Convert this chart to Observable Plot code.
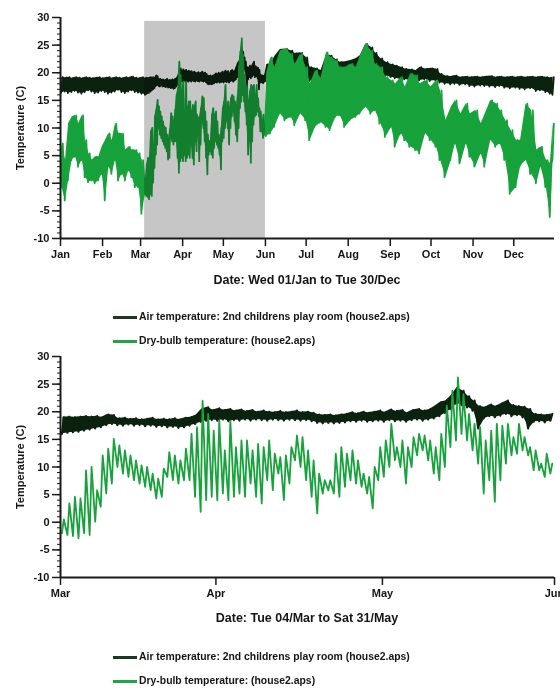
<!DOCTYPE html>
<html>
<head>
<meta charset="utf-8">
<script src="https://cdn.jsdelivr.net/npm/d3@7"></script>
<script src="https://cdn.jsdelivr.net/npm/@observablehq/plot@0.6"></script>
<style>
  html, body { margin: 0; padding: 0; background: #fff; }
  #wrap { position: relative; width: 560px; height: 691px; background: #fff;
          font-family: "Liberation Sans", Arial, sans-serif; font-weight: bold; color: #151515; overflow: hidden; }
  .abs { position: absolute; }
  .title { left: 60px; width: 494px; text-align: center; font-size: 12.5px; line-height: 14px; white-space: nowrap; }
  .ylab { font-size: 11px; white-space: nowrap; transform: translate(-50%, -50%) rotate(-90deg); }
  .leg { left: 113px; height: 12px; display: flex; align-items: center; font-size: 10.4px; line-height: 12px; white-space: nowrap; }
  .sw { width: 24px; height: 3px; margin-right: 2px; }
</style>
</head>
<body>
<div id="wrap">
  <div id="p1" class="abs" style="left:0;top:0"></div>
  <div class="abs ylab" style="left:20px;top:127.5px">Temperature (C)</div>
  <div class="abs title" style="top:273px">Date: Wed 01/Jan to Tue 30/Dec</div>
  <div class="abs leg" style="top:311px"><span class="sw" style="background:#1c3822"></span>Air temperature: 2nd childrens play room (house2.aps)</div>
  <div class="abs leg" style="top:335px"><span class="sw" style="background:#1ea646"></span>Dry-bulb temperature: (house2.aps)</div>

  <div id="p2" class="abs" style="left:0;top:339px"></div>
  <div class="abs ylab" style="left:20px;top:467px">Temperature (C)</div>
  <div class="abs title" style="top:611px">Date: Tue 04/Mar to Sat 31/May</div>
  <div class="abs leg" style="top:651px"><span class="sw" style="background:#1c3822"></span>Air temperature: 2nd childrens play room (house2.aps)</div>
  <div class="abs leg" style="top:675px"><span class="sw" style="background:#1ea646"></span>Dry-bulb temperature: (house2.aps)</div>
</div>
<script>
// ---------- data ----------
const monthLabels = ["Jan","Feb","Mar","Apr","May","Jun","Jul","Aug","Sep","Oct","Nov","Dec"];
const yTicks = [-10, -5, 0, 5, 10, 15, 20, 25, 30];

// Whole-year panel samples outside the 4 Mar – 31 May window (day of year, 0 = 1 Jan 2003)
const yearDays = [1,3.7,6,8.6,11,13.5,16,18.4,20.9,23.3,25.8,28.3,30.7,33.2,35.6,38.1,40.5,43,45.5,48,50.4,52.8,55.3,57.7,60.2,
  152,155,158,162,166,170,173,177,181,184,188,192,196,199,203,206,210,214,218,221,225,229,232,236,240,244,247,251,254,258,
  262,265,269,273,277,280,284,288,291,295,299,302,306,310,313,317,321,324,328,332,336,339,343,347,351,354,358,361,363];
const yearAirMin = [16.4,16.6,16.3,16.5,16.7,16.4,16.2,16.5,16.8,16.6,16.3,16.4,16.7,16.5,16.2,16.4,16.6,16.9,16.5,16.3,16.6,16.8,16.5,16.4,16.2,
  18.5,18.6,19.5,20.5,20.8,20.5,20.0,20.2,19.6,18.5, 18.4,18.2,19.6,19.8,19.2,19.0,19.0,19.3,19.5,20.2,
  21.5,21.8,20.8,20.0,19.4,19.2,19.0,18.8,18.8,18.6, 18.7,18.6,18.8,18.5,18.6,18.2,18.0,17.9,18.0,17.8,
  17.9,17.6,17.5,17.7,17.6,17.5,17.4,17.6,17.3,17.2, 17.3,17.1,17.0,17.2,16.7,16.8,16.5,16.2,16.0];
const yearAirMax = [19.2,19.1,19.2,19.0,19.2,19.1,19.0,19.2,19.1,19.0,19.1,19.2,19.0,19.1,19.2,19.0,19.2,19.1,19.0,19.2,19.1,19.3,19.1,19.0,19.2,
  21.5,21.6,23.0,24.2,24.3,24.0,23.5,23.6,22.8,21.0, 20.8,20.4,23.2,23.1,22.4,21.9,22.0,22.2,22.6,23.1,
  25.2,24.6,23.6,22.6,21.9,21.5,21.3,21.0,20.7,20.6, 20.4,21.0,20.7,20.8,20.7,19.8,19.4,19.3,19.5,19.2,
  19.3,19.2,19.3,19.2,19.3,19.4,19.2,19.3,19.2,19.3, 19.2,19.3,19.2,19.3,19.2,19.3,19.2,19.1,19.2];
const yearDryMin = [-0.7,-3.1,0.5,4.2,4.8,3.0,4.2,1.1,0.2,0.5,0.0,0.5,1.7,-3.1,3.0,1.7,4.2,0.5,1.7,0.5,2.3,1.1,-0.7,-0.7,-5.5,
  8.5,9.0,10.2,12.6,11.4,12.0,10.5,12.6,11.4,7.8, 10.2,11.0,10.2,9.6,12.0,12.3,10.2,11.4,12.0,12.6,
  13.8,12.6,13.2,10.8,8.4,10.2,6.6,9.0,7.8,6.6, 6.0,5.4,9.0,7.8,6.6,4.2,1.1,4.2,7.2,3.6,
  7.2,4.8,3.0,5.4,3.0,7.8,6.6,7.2,4.2,-1.9, -0.7,3.0,4.2,1.7,0.0,3.0,-0.7,-6.1,4.2];
const yearDryMax = [7.2,4.2,10.8,12.0,12.3,10.8,12.3,7.8,5.4,4.2,4.8,4.8,6.6,7.8,9.0,7.8,10.8,9.0,9.0,6.0,6.6,6.0,6.0,5.4,4.2,
  20.0,22.8,21.0,24.0,24.3,23.4,21.6,23.4,21.0,18.0, 20.4,19.0,23.7,22.8,22.2,21.0,21.0,21.6,21.0,23.1,
  25.2,24.0,21.6,21.0,19.2,18.6,18.0,19.2,17.4,19.8, 19.5,18.0,18.6,17.4,18.6,16.8,11.4,13.8,15.0,12.6,
  14.4,12.6,13.2,10.8,12.6,15.0,14.4,13.2,11.4,9.6, 7.8,7.8,14.4,13.2,6.0,6.6,4.2,3.6,10.8];

// Daily minimum / maximum, 4 Mar – 31 May (89 days)
const detAirMin = [16.0,16.2,16.3,16.4,16.6,16.8,17.0,17.2,17.6,17.8,
  17.6,17.5,17.7,17.5,17.6,17.4,17.5,17.3,17.4,17.2,
  17.3,17.1,17.2,17.5,17.8,18.2,18.4,18.5,18.4,18.6,
  18.3,18.5,18.4,18.6,18.4,18.6,18.5,18.4,18.6,18.5,
  18.4,18.6,18.5,18.4,18.5,18.3,18.0,17.9,18.0,17.9,
  18.0,18.1,18.3,18.2,18.4,18.2,18.3,18.4,18.2,18.5,
  18.3,18.4,18.2,18.5,18.6,18.4,18.6,18.8,19.2,19.8,
  20.5,21.5,21.2,20.8,20.2,17.0,18.8,19.2,19.0,19.3,
  19.6,19.2,19.4,19.0,17.0,18.2,18.3,18.1,18.4];
const detAirMax = [19.0,19.1,19.0,19.1,19.2,19.1,19.2,19.0,19.5,19.4,
  18.8,18.9,18.7,18.8,18.6,18.7,18.9,18.6,18.7,18.6,
  18.8,18.6,18.9,19.0,19.4,20.5,20.8,20.3,20.6,20.3,
  20.5,20.2,20.4,20.1,20.3,20.0,20.2,20.0,19.9,20.1,
  19.9,20.0,20.2,19.9,20.0,19.8,19.5,19.4,19.5,19.3,
  19.5,19.6,19.9,19.7,20.0,19.8,20.0,20.2,19.9,20.4,
  20.1,20.3,19.8,20.3,20.5,20.2,20.4,21.0,21.7,22.0,
  23.0,24.4,23.8,22.8,22.0,21.0,20.8,21.3,21.0,21.5,
  22.0,21.2,21.0,20.9,20.5,19.6,19.5,19.4,19.6];
const detDryMin = [-2.0,-2.3,-2.5,-2.9,-2.0,-2.3,0.1,2.8,5.2,7.0,
  10.0,8.8,8.2,7.6,7.0,6.4,5.8,4.3,4.6,8.2,
  7.6,7.0,7.6,7.6,4.6,1.9,4.0,4.6,4.0,5.2,
  4.0,4.6,5.2,4.6,7.0,4.6,3.4,7.6,5.8,8.8,
  4.0,7.0,11.2,10.0,7.6,4.6,1.6,5.2,5.8,5.2,
  4.6,6.4,7.6,7.0,6.4,5.2,2.5,7.6,8.2,10.0,
  11.2,10.0,7.0,10.0,12.1,13.0,11.2,8.8,7.6,10.0,
  13.6,14.8,16.0,14.8,13.0,10.6,5.2,7.6,3.7,7.6,
  10.6,12.1,12.4,13.0,12.1,9.4,9.4,8.2,8.8];
const detDryMax = [0.5,3.4,4.6,4.3,9.4,10.0,5.8,12.1,13.3,15.1,
  13.9,13.0,12.1,11.2,10.3,10.0,8.8,7.9,9.7,12.7,
  12.1,11.2,13.3,16.0,17.2,22.0,19.6,16.6,18.4,13.0,
  18.4,13.6,14.8,14.8,13.0,14.2,13.6,14.8,12.4,11.8,
  12.1,13.6,15.7,15.4,13.0,11.2,8.8,7.6,7.6,12.4,
  13.6,12.4,13.0,11.2,8.8,8.2,10.0,13.6,14.8,17.8,
  13.6,14.8,13.6,15.4,16.0,15.7,14.8,13.6,16.0,21.1,
  23.8,26.2,23.2,19.6,17.8,17.2,14.8,16.6,17.8,17.5,
  17.8,15.4,17.8,15.4,13.6,13.0,10.6,12.4,10.6];

// ---------- build ----------
const AIR = "#0b220f", DRY = "#17a23b";
const DAY0 = Date.UTC(2003, 0, 1);
const detStart = 62; // 4 Mar
const toDate = d => new Date(DAY0 + d * 864e5);

function dailyPoints(mins, maxs, start) {
  const out = [];
  mins.forEach((m, k) => {
    out.push({t: toDate(start + k + 0.25), v: m});
    out.push({t: toDate(start + k + 0.6), v: maxs[k]});
  });
  return out;
}
function samplePoints(days, mins, maxs) {
  const out = [];
  days.forEach((d, i) => {
    const prev = i > 0 ? d - days[i - 1] : Infinity;
    const next = i < days.length - 1 ? days[i + 1] - d : Infinity;
    let s = Math.min(prev, next); if (!isFinite(s) || s > 4) s = 3;
    out.push({t: toDate(d - s / 4), v: mins[i]});
    out.push({t: toDate(d + s / 4), v: maxs[i]});
  });
  return out;
}
function bands(days, mins, maxs, dMins, dMaxs) {
  return days.map((d, i) => ({t: toDate(d), lo: mins[i], hi: maxs[i]}))
    .concat(dMins.map((m, k) => ({t: toDate(detStart + k + 0.5), lo: m, hi: dMaxs[k]})))
    .sort(byT);
}
const byT = (a, b) => a.t - b.t;
const yearAir = samplePoints(yearDays, yearAirMin, yearAirMax).concat(dailyPoints(detAirMin, detAirMax, detStart)).sort(byT);
const yearDry = samplePoints(yearDays, yearDryMin, yearDryMax).concat(dailyPoints(detDryMin, detDryMax, detStart)).sort(byT);
const yearAirBand = bands(yearDays, yearAirMin, yearAirMax, detAirMin, detAirMax);
const yearDryBand = bands(yearDays, yearDryMin, yearDryMax, detDryMin, detDryMax);
const detAir = dailyPoints(detAirMin, detAirMax, detStart);
const detDry = dailyPoints(detDryMin, detDryMax, detStart);
const detAirBand = detAirMin.map((m, k) => ({t: toDate(detStart + k + 0.45), lo: m, hi: detAirMax[k]}));

const yMinor = d3.range(-10, 31, 1);
const fmtMonth = d => monthLabels[d.getUTCMonth()];

function axes(xStart, xTicks) {
  return [
    Plot.ruleX([xStart], {stroke: "#1a1a1a", strokeWidth: 2}),
    Plot.ruleY([-10], {stroke: "#1a1a1a", strokeWidth: 2}),
    Plot.axisX({ticks: xTicks, tickFormat: fmtMonth, tickSize: 8, tickPadding: 4, strokeWidth: 1.5, stroke: "#1a1a1a", label: null}),
    Plot.axisY({ticks: yTicks, tickFormat: d => String(d), tickSize: 8, tickPadding: 3, strokeWidth: 1.5, stroke: "#1a1a1a", label: null}),
    Plot.axisY({ticks: yMinor, tickFormat: () => "", tickSize: 3, strokeWidth: 1, stroke: "#1a1a1a", label: null})
  ];
}
const common = {
  width: 560, height: 262, marginLeft: 60, marginRight: 6, marginTop: 17, marginBottom: 24,
  style: {fontFamily: "'Liberation Sans', Arial, sans-serif", fontSize: "11px", fontWeight: "bold", color: "#151515", background: "transparent"}
};

const yearStart = toDate(0), yearEnd = toDate(364);
const monthStarts = d3.utcMonths(yearStart, yearEnd);
const p1 = Plot.plot({
  ...common,
  x: {type: "utc", domain: [yearStart, yearEnd], axis: null},
  y: {domain: [-10, 30], axis: null},
  marks: [
    Plot.areaY(yearAirBand, {x: "t", y1: "lo", y2: "hi", fill: AIR}),
    Plot.line(yearAir, {x: "t", y: "v", stroke: AIR, strokeWidth: 1.8}),
    Plot.areaY(yearDryBand, {x: "t", y1: "lo", y2: "hi", fill: DRY}),
    Plot.line(yearDry, {x: "t", y: "v", stroke: DRY, strokeWidth: 1.8}),
    Plot.rect([{a: toDate(detStart), b: toDate(detStart + detAirMin.length)}],
      {x1: "a", x2: "b", y1: -10, y2: 29.3, fill: "#c6c6c6", mixBlendMode: "multiply"}),
    ...axes(yearStart, monthStarts)
  ]
});
document.getElementById("p1").append(p1);

const dStart = toDate(detStart), dEnd = toDate(detStart + detAirMin.length);
const p2 = Plot.plot({
  ...common,
  x: {type: "utc", domain: [dStart, dEnd], axis: null},
  y: {domain: [-10, 30], axis: null},
  marks: [
    Plot.areaY(detAirBand, {x: "t", y1: "lo", y2: "hi", fill: AIR}),
    Plot.line(detAir, {x: "t", y: "v", stroke: AIR, strokeWidth: 2.2}),
    Plot.line(detDry, {x: "t", y: "v", stroke: DRY, strokeWidth: 1.8}),
    ...axes(dStart, [dStart].concat(d3.utcMonths(toDate(detStart + 1), dEnd), [dEnd]))
  ]
});
document.getElementById("p2").append(p2);
</script>
</body>
</html>
